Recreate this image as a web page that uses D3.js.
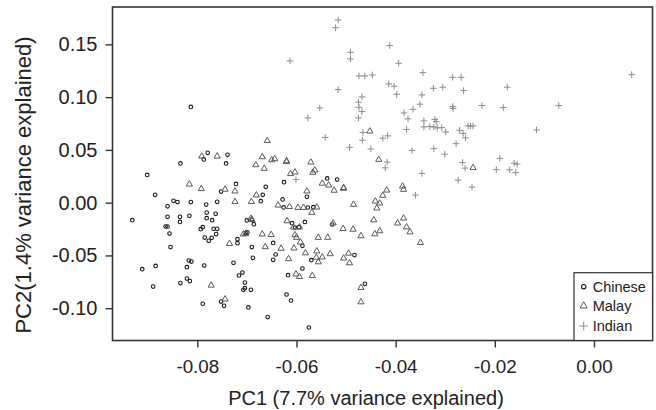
<!DOCTYPE html>
<html>
<head>
<meta charset="utf-8">
<script src="https://cdn.jsdelivr.net/npm/d3@7"></script>
<style>
    body { margin: 0; background: #fff; }
    text { font-family: "Liberation Sans", Arial, sans-serif; fill: #222; }
</style>
</head>
<body>
<svg id="chart"></svg>
<script>
var width = 656;
var height = 410;

// PC1 / PC2 scores
var chineseX = [-0.0813, -0.0901, -0.0834, -0.0779, -0.0787, -0.0739, -0.0742, -0.0885, -0.0860, -0.0848,
    -0.0840, -0.0813, -0.0782, -0.0760, -0.0722, -0.0752, -0.0662, -0.0668, -0.0672, -0.0625,
    -0.0628, -0.0626, -0.0860, -0.0835, -0.0816, -0.0781, -0.0763, -0.0781, -0.0931, -0.0770,
    -0.0864, -0.0860, -0.0856, -0.0835, -0.0793, -0.0789, -0.0771, -0.0777, -0.0785, -0.0767,
    -0.0760, -0.0762, -0.0700, -0.0690, -0.0686, -0.0699, -0.0702, -0.0719, -0.0719, -0.0690,
    -0.0688, -0.0727, -0.0854, -0.0884, -0.0911, -0.0889, -0.0834, -0.0821, -0.0817, -0.0812,
    -0.0821, -0.0815, -0.0786, -0.0716, -0.0709, -0.0704, -0.0704, -0.0707, -0.0692, -0.0752,
    -0.0746, -0.0789, -0.0697, -0.0658, -0.0620, -0.0611, -0.0575, -0.0647, -0.0642, -0.0647,
    -0.0617, -0.0588, -0.0570, -0.0588, -0.0583, -0.0595, -0.0603, -0.0609, -0.0577, -0.0566,
    -0.0579, -0.0528, -0.0483, -0.0462, -0.0538, -0.0518];
var chineseY = [0.0907, 0.0263, 0.0372, 0.0472, 0.0410, 0.0453, 0.0372, 0.0074, -0.0035, 0.0017,
    0.0006, 0.0006, -0.0018, 0.0008, 0.0178, 0.0105, 0.0150, 0.0074, 0.0014, 0.0194,
    0.0031, -0.0045, -0.0134, -0.0134, -0.0125, -0.0094, -0.0106, -0.0147, -0.0166, -0.0166,
    -0.0226, -0.0226, -0.0293, -0.0182, -0.0251, -0.0232, -0.0333, -0.0362, -0.0331, -0.0248,
    -0.0248, -0.0298, -0.0168, -0.0163, -0.0204, -0.0281, -0.0289, -0.0346, -0.0384, -0.0421,
    -0.0523, -0.0570, -0.0421, -0.0599, -0.0630, -0.0795, -0.0762, -0.0611, -0.0548, -0.0558,
    -0.0719, -0.0743, -0.0596, -0.0690, -0.0662, -0.0757, -0.0810, -0.0826, -0.0826, -0.0937,
    -0.0977, -0.0958, -0.0993, -0.1084, -0.0870, -0.0927, -0.1183, -0.0542, -0.0491, -0.0381,
    -0.0687, -0.0624, -0.0545, -0.0409, -0.0182, -0.0232, -0.0236, -0.0194, -0.0046, -0.0043,
    0.0055, -0.0207, -0.0497, -0.0769, 0.0230, 0.0219];

var malayX = [-0.0659, -0.0791, -0.0760, -0.0669, -0.0682, -0.0665, -0.0650, -0.0644, -0.0620, -0.0620,
    -0.0612, -0.0603, -0.0571, -0.0567, -0.0563, -0.0816, -0.0792, -0.0744, -0.0724, -0.0681,
    -0.0724, -0.0691, -0.0637, -0.0614, -0.0692, -0.0690, -0.0579, -0.0597, -0.0586, -0.0559,
    -0.0569, -0.0707, -0.0702, -0.0735, -0.0669, -0.0651, -0.0663, -0.0631, -0.0619, -0.0606,
    -0.0594, -0.0603, -0.0600, -0.0556, -0.0605, -0.0592, -0.0582, -0.0616, -0.0559, -0.0556,
    -0.0560, -0.0601, -0.0594, -0.0568, -0.0772, -0.0744, -0.0452, -0.0434, -0.0244, -0.0548,
    -0.0535, -0.0524, -0.0505, -0.0505, -0.0485, -0.0418, -0.0426, -0.0386, -0.0384, -0.0441,
    -0.0432, -0.0438, -0.0444, -0.0526, -0.0506, -0.0486, -0.0470, -0.0442, -0.0432, -0.0396,
    -0.0384, -0.0378, -0.0371, -0.0350, -0.0537, -0.0548, -0.0532, -0.0505, -0.0495, -0.0493,
    -0.0470, -0.0470];
var malayY = [0.0590, 0.0443, 0.0443, 0.0437, 0.0361, 0.0327, 0.0408, 0.0418, 0.0399, 0.0391,
    0.0277, 0.0292, 0.0386, 0.0289, 0.0311, 0.0178, 0.0135, 0.0129, 0.0112, 0.0074,
    0.0012, 0.0012, -0.0021, -0.0035, -0.0147, -0.0156, 0.0112, -0.0043, -0.0043, -0.0040,
    -0.0090, -0.0295, -0.0289, -0.0385, -0.0295, -0.0300, -0.0416, -0.0431, -0.0170, -0.0229,
    -0.0229, -0.0302, -0.0327, -0.0327, -0.0428, -0.0371, -0.0474, -0.0529, -0.0456, -0.0559,
    -0.0516, -0.0674, -0.0698, -0.0688, -0.0780, -0.0911, 0.0680, 0.0412, 0.0334, 0.0186,
    0.0169, 0.0119, 0.0145, 0.0138, -0.0014, 0.0121, 0.0071, 0.0159, 0.0128, 0.0017,
    -0.0002, -0.0049, -0.0161, -0.0191, -0.0243, -0.0250, -0.0312, -0.0294, -0.0265, -0.0191,
    -0.0144, -0.0227, -0.0275, -0.0376, -0.0327, -0.0513, -0.0482, -0.0523, -0.0477, -0.0568,
    -0.0802, -0.0938];

var indianX = [-0.0516, -0.0521, -0.0412, -0.0491, -0.0491, -0.0394, -0.0345, -0.0474, -0.0462, -0.0447,
    -0.0285, -0.0268, -0.0516, -0.0414, -0.0403, -0.0398, -0.0324, -0.0305, -0.0263, -0.0468,
    -0.0347, -0.0553, -0.0475, -0.0474, -0.0468, -0.0351, -0.0365, -0.0285, -0.0284, -0.0226,
    -0.0577, -0.0475, -0.0383, -0.0375, -0.0343, -0.0321, -0.0318, -0.0343, -0.0331, -0.0323,
    -0.0316, -0.0307, -0.0299, -0.0271, -0.0264, -0.0259, -0.0254, -0.0249, -0.0244, -0.0378,
    -0.0466, -0.0467, -0.0542, -0.0426, -0.0416, -0.0493, -0.0450, -0.0367, -0.0323, -0.0301,
    -0.0278, -0.0417, -0.0421, -0.0265, -0.0260, -0.0197, -0.0190, -0.0347, -0.0613, -0.0274,
    -0.0246, -0.0360, -0.0601, 0.0076, -0.0175, -0.0183, -0.0071, -0.0116, -0.0170, -0.0161,
    -0.0155, -0.0158];
var indianY = [0.1731, 0.1658, 0.1488, 0.1425, 0.1362, 0.1321, 0.1232, 0.1201, 0.1201, 0.1210,
    0.1188, 0.1188, 0.1071, 0.1125, 0.1103, 0.1027, 0.1084, 0.1094, 0.1062, 0.1002,
    0.1021, 0.0898, 0.0952, 0.0904, 0.0863, 0.0933, 0.0885, 0.0910, 0.0893, 0.0920,
    0.0803, 0.0803, 0.0850, 0.0794, 0.0775, 0.0789, 0.0768, 0.0718, 0.0721, 0.0718,
    0.0708, 0.0711, 0.0670, 0.0685, 0.0656, 0.0614, 0.0727, 0.0727, 0.0727, 0.0694,
    0.0666, 0.0592, 0.0618, 0.0611, 0.0633, 0.0524, 0.0509, 0.0495, 0.0512, 0.0459,
    0.0559, 0.0384, 0.0330, 0.0380, 0.0327, 0.0313, 0.0420, 0.0277, 0.1343, 0.0213,
    0.0147, 0.0072, 0.0219, 0.1213, 0.1094, 0.0901, 0.0920, 0.0689, 0.0311, 0.0374,
    0.0365, 0.0285];

var xTicks = [-0.08, -0.06, -0.04, -0.02, 0.00];
var yTicks = [-0.10, -0.05, 0.00, 0.05, 0.10, 0.15];
var groups = ["Chinese", "Malay", "Indian"];

// Plot region (R style, box plus outward ticks)
var plotLeft = 112.5, plotRight = 652.5, plotTop = 7, plotBottom = 340.5;

var x = d3.scaleLinear()
    .domain([-0.0971, 0.0118])
    .range([plotLeft, plotRight]);

var y = d3.scaleLinear()
    .domain([-0.1306, 0.1854])
    .range([plotBottom, plotTop]);

var colors = { Chinese: "#1a1a1a", Malay: "#5a5a5a", Indian: "#8c8c8c" };

// plain hyphen for negatives, like the original
var fmt = function (d) { return d3.format(".2f")(d).replace("\u2212", "-"); };

function zipPoints(xs, ys) {
    return xs.map(function (v, i) { return { x: v, y: ys[i] }; });
}

// Marker shapes, s scales them (legend markers are a bit bigger)
function trianglePath(s) {
    var h = 5.4 * s, w = 6.2 * s;
    return "M0," + (-h * 0.6) + "L" + (w / 2) + "," + (h * 0.4) + "L" + (-w / 2) + "," + (h * 0.4) + "Z";
}
function plusPath(s) {
    var a = 3.3 * s;
    return "M" + (-a) + ",0H" + a + "M0," + (-a) + "V" + a;
}

var svg = d3.select("#chart")
    .attr("width", width)
    .attr("height", height);

// Chinese: open circles
svg.append("g").selectAll("circle")
    .data(zipPoints(chineseX, chineseY))
    .enter().append("circle")
    .attr("cx", function (d) { return x(d.x); })
    .attr("cy", function (d) { return y(d.y); })
    .attr("r", 1.8)
    .style("fill", "none")
    .style("stroke", colors.Chinese)
    .style("stroke-width", 1.1);

// Malay: open triangles
svg.append("g").selectAll("path")
    .data(zipPoints(malayX, malayY))
    .enter().append("path")
    .attr("transform", function (d) { return "translate(" + x(d.x) + "," + y(d.y) + ")"; })
    .attr("d", trianglePath(1))
    .style("fill", "none")
    .style("stroke", colors.Malay)
    .style("stroke-width", 1);

// Indian: plus signs
svg.append("g").selectAll("path")
    .data(zipPoints(indianX, indianY))
    .enter().append("path")
    .attr("transform", function (d) { return "translate(" + x(d.x) + "," + y(d.y) + ")"; })
    .attr("d", plusPath(1))
    .style("fill", "none")
    .style("stroke", colors.Indian)
    .style("stroke-width", 1);

// Box round the plot
svg.append("rect")
    .attr("x", plotLeft)
    .attr("y", plotTop)
    .attr("width", plotRight - plotLeft)
    .attr("height", plotBottom - plotTop)
    .style("fill", "none")
    .style("stroke", "#333")
    .style("stroke-width", 1.6);

// X axis
var xAxis = svg.append("g")
    .attr("transform", "translate(0," + plotBottom + ")")
    .call(d3.axisBottom(x).tickValues(xTicks).tickSize(7).tickPadding(12).tickFormat(fmt));
xAxis.select(".domain").remove();
xAxis.selectAll("line").style("stroke", "#333").style("stroke-width", 1.4);
xAxis.selectAll("text")
    .style("font-size", "18.8px")
    .style("font-family", "'Liberation Sans', Arial, sans-serif")
    .style("fill", "#222")
    .attr("dy", "0.71em");

// Y axis
var yAxis = svg.append("g")
    .attr("transform", "translate(" + plotLeft + ",0)")
    .call(d3.axisLeft(y).tickValues(yTicks).tickSize(7).tickPadding(8).tickFormat(fmt));
yAxis.select(".domain").remove();
yAxis.selectAll("line").style("stroke", "#333").style("stroke-width", 1.4);
yAxis.selectAll("text")
    .style("font-size", "20px")
    .style("font-family", "'Liberation Sans', Arial, sans-serif")
    .style("fill", "#222");

// Axis titles
svg.append("text")
    .attr("x", 366)
    .attr("y", 405)
    .attr("text-anchor", "middle")
    .style("font-size", "20px")
    .text("PC1 (7.7% variance explained)");

svg.append("text")
    .attr("transform", "translate(31,185) rotate(-90)")
    .attr("text-anchor", "middle")
    .style("font-size", "22px")
    .text("PC2(1.4% variance explained)");

// Legend in the bottom right corner
var legend = svg.append("g");
legend.append("rect")
    .attr("x", 574)
    .attr("y", 272.7)
    .attr("width", plotRight - 574)
    .attr("height", plotBottom - 272.7)
    .style("fill", "#fff")
    .style("stroke", "#333")
    .style("stroke-width", 1.2);

var legendY = [286.7, 305.5, 326];
var item = legend.selectAll(".item")
    .data(groups)
    .enter().append("g")
    .attr("class", "item")
    .attr("transform", function (d, i) { return "translate(583.7," + legendY[i] + ")"; });

item.each(function (d) {
    var g = d3.select(this);
    if (d === "Chinese") {
        g.append("circle").attr("r", 2.2)
            .style("fill", "none").style("stroke", colors.Chinese).style("stroke-width", 1.1);
    } else if (d === "Malay") {
        g.append("path").attr("d", trianglePath(1.15))
            .style("fill", "none").style("stroke", colors.Malay).style("stroke-width", 1);
    } else {
        g.append("path").attr("d", plusPath(1.35))
            .style("fill", "none").style("stroke", colors.Indian).style("stroke-width", 1);
    }
});

item.append("text")
    .attr("x", 9)
    .attr("dy", "0.36em")
    .style("font-size", "14.5px")
    .text(function (d) { return d; });
</script>
</body>
</html>
